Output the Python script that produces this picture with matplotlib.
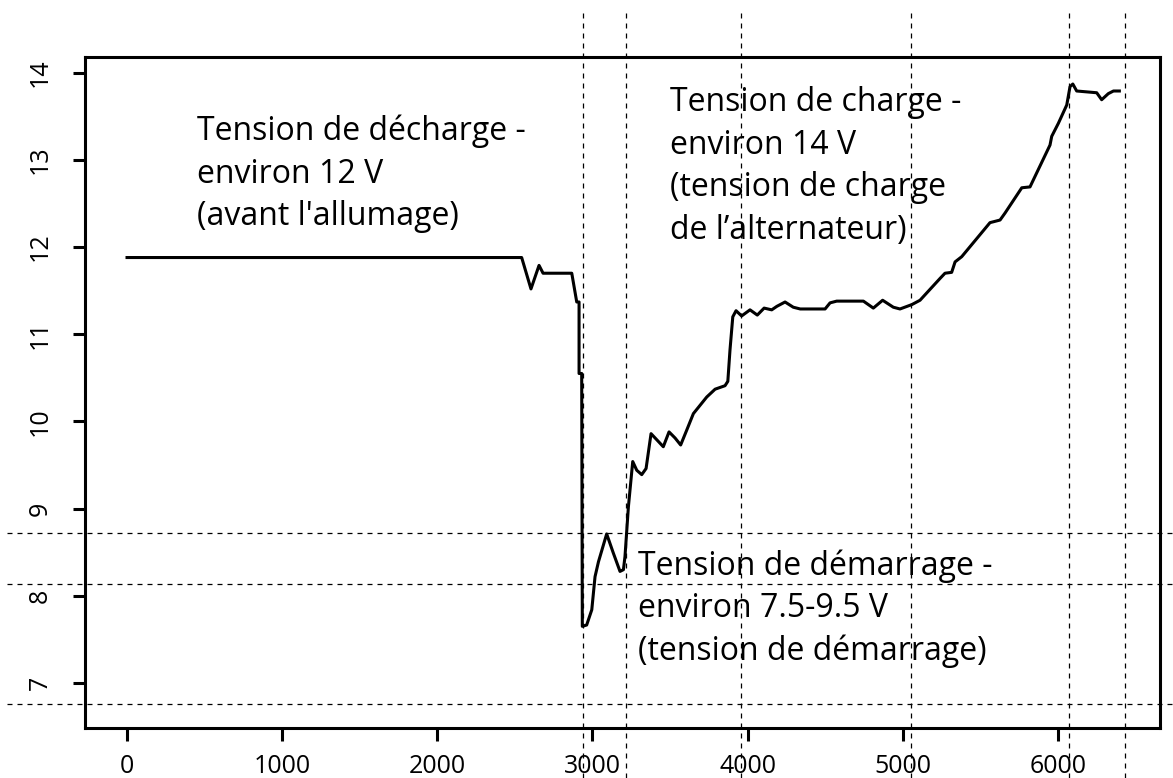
import matplotlib
matplotlib.use("Agg")
import matplotlib.pyplot as plt

plt.rcParams['font.family'] = ['Open Sans', 'DejaVu Sans']

# temps (ms) et tension (V)
t = [0, 2544, 2604, 2656, 2682, 2867, 2899, 2914, 2914, 2931, 2935,
     2963, 2996, 3017, 3039, 3092, 3135, 3178, 3200, 3210, 3232, 3260,
     3286, 3318, 3346, 3378, 3415, 3457, 3494, 3533, 3569, 3608, 3651,
     3737, 3791, 3855, 3873, 3887, 3905, 3926, 3962, 4016, 4063, 4107,
     4156, 4189, 4242, 4295, 4340, 4500, 4532, 4575, 4747, 4811, 4871,
     4940, 4983, 5059, 5112, 5241, 5273, 5316, 5338, 5381, 5563, 5628,
     5660, 5768, 5821, 5950, 5961, 6004, 6058, 6079, 6097, 6122, 6251,
     6283, 6326, 6359, 6397]
u = [11.88, 11.88, 11.52, 11.79, 11.70, 11.70, 11.37, 11.37, 10.55, 10.55, 7.65,
     7.665, 7.84, 8.22, 8.39, 8.71, 8.49, 8.28, 8.30, 8.45, 9.02, 9.54,
     9.44, 9.39, 9.46, 9.86, 9.79, 9.71, 9.88, 9.81, 9.73, 9.90, 10.09,
     10.28, 10.37, 10.41, 10.46, 10.82, 11.20, 11.27, 11.21, 11.28, 11.22, 11.30,
     11.28, 11.32, 11.37, 11.31, 11.29, 11.29, 11.36, 11.38, 11.38, 11.30, 11.39,
     11.31, 11.29, 11.34, 11.39, 11.64, 11.70, 11.71, 11.83, 11.89, 12.28, 12.31,
     12.39, 12.68, 12.69, 13.17, 13.27, 13.42, 13.63, 13.84, 13.87, 13.79, 13.77,
     13.69, 13.76, 13.79, 13.79]

v_lines = [2938, 3217, 3958, 5054, 6073, 6434]
h_lines = [8.72, 8.14, 6.76]

x_ticks = [0, 1000, 2000, 3000, 4000, 5000, 6000]
y_ticks = [7, 8, 9, 10, 11, 12, 13, 14]

notes = [
    (451, 13.515, "Tension de décharge -\nenviron 12 V\n(avant l'allumage)"),
    (3500, 13.845, "Tension de charge -\nenviron 14 V\n(tension de charge\nde l’alternateur)"),
    (3294, 8.535, "Tension de démarrage -\nenviron 7.5-9.5 V\n(tension de démarrage)"),
]

fig = plt.figure(figsize=(11.73, 7.78), dpi=100)
ax = fig.add_axes([0.07246, 0.06427, 0.91645, 0.86247])

ax.plot(t, u, color='black', lw=2.2, solid_joinstyle='round')

for xv in v_lines:
    ax.axvline(xv, ymin=-0.0745, ymax=1.073, color='black', lw=0.9,
               ls=(0, (4, 4)), clip_on=False)
for yv in h_lines:
    ax.axhline(yv, xmin=-0.0726, xmax=1.012, color='black', lw=0.9,
               ls=(0, (4, 4)), clip_on=False)

for x0, y0, txt in notes:
    ax.text(x0, y0, txt, fontsize=23, va='top', ha='left', linespacing=1.38)

ax.set_xlim(-271, 6659)
ax.set_ylim(6.484, 14.18)
ax.set_xticks(x_ticks)
ax.set_yticks(y_ticks)
ax.tick_params(axis='both', length=9, width=2.2, labelsize=18, direction='out')
ax.tick_params(axis='x', pad=10)
ax.tick_params(axis='y', pad=14)
for lab in ax.get_yticklabels():
    lab.set_rotation(90)
    lab.set_va('center')
for sp in ax.spines.values():
    sp.set_linewidth(2.2)

fig.savefig('out.png', dpi=100)
